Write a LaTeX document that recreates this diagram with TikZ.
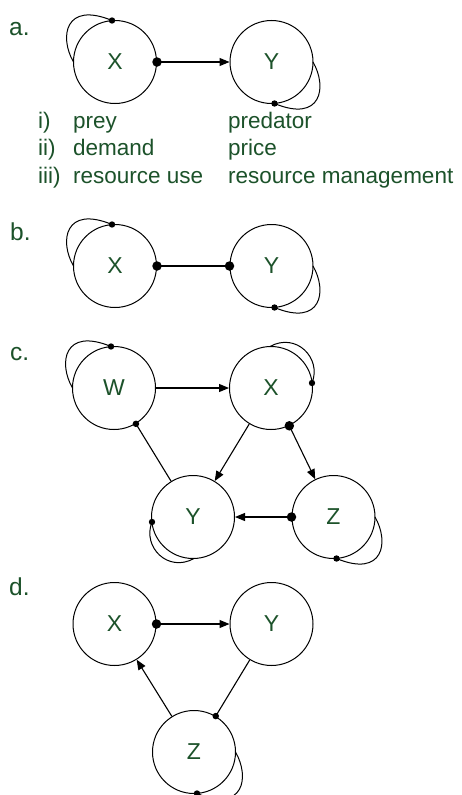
\documentclass[tikz,border=0pt]{standalone}
\usepackage{fontspec}
\setmainfont{Liberation Sans}
\usetikzlibrary{arrows.meta}
\definecolor{txtgreen}{RGB}{28,82,42}
\begin{document}
\begin{tikzpicture}[x=1pt,y=-1pt,
  state/.style={circle,draw=black,line width=1pt,minimum size=83pt,inner sep=0pt,
    text=txtgreen,font=\fontsize{23}{27}\selectfont},
  lbl/.style={anchor=base west,inner sep=0pt,text=txtgreen,font=\fontsize{22.5}{27}\selectfont},
  panel/.style={lbl,font=\fontsize{24.5}{29}\selectfont},
  edge/.style={line width=1.1pt},
  arr/.style={edge,-{Triangle[length=10pt,width=8pt]}},
  bigdot/.style={circle,fill=black,inner sep=0pt,minimum size=9.5pt},
  smalldot/.style={circle,fill=black,inner sep=0pt,minimum size=6.5pt},
  % self-loops, drawn relative to the node centre
  loopnw/.pic={\draw[line width=1pt] (-3,-41.5) .. controls (-50,-61) and (-56,-25) .. (-41.5,0);
                \fill (-3,-41.5) circle (3.2);},
  loopse/.pic={\draw[line width=1pt] (41.5,0) .. controls (56,25) and (50,61) .. (3,41.5);
                \fill (3,41.5) circle (3.2);},
  loopne/.pic={\draw[line width=1pt] (-1,-41.5) .. controls (25,-56) and (51,-30) .. (41,-5);
                \fill (41,-5) circle (3.2);},
  loopsw/.pic={\draw[line width=1pt] (-41,5) .. controls (-51,30) and (-25,56) .. (1,41.5);
                \fill (-41,5) circle (3.2);},
]
\fill[white] (0,0) rectangle (462,795);
\useasboundingbox (0,0) rectangle (462,795);

% ---- a.
\node[panel] (la) at (9,35) {a.};
\node[state] (aX) at (115,62) {X};
\node[state] (aY) at (271.5,62) {Y};
\draw[arr] (aX) -- (aY) node[pos=0,bigdot] (aXd) {};
\pic at (aX) {loopnw};
\pic at (aY) {loopse};
\node[lbl] (r1a) at (38,128) {i)};
\node[lbl] (r1b) at (73,128) {prey};
\node[lbl] (r1c) at (228,128) {predator};
\node[lbl] (r2a) at (38,155.5) {ii)};
\node[lbl] (r2b) at (73,155.5) {demand};
\node[lbl] (r2c) at (228,155.5) {price};
\node[lbl] (r3a) at (38,183) {iii)};
\node[lbl] (r3b) at (73,183) {resource use};
\node[lbl] (r3c) at (228,183) {resource management};

% ---- b.
\node[panel] (lb) at (10,240) {b.};
\node[state] (bX) at (115,266) {X};
\node[state] (bY) at (271.5,266) {Y};
\draw[edge] (bX) -- (bY) node[pos=0,bigdot] (bXd) {} node[pos=1,bigdot] (bYd) {};
\pic at (bX) {loopnw};
\pic at (bY) {loopse};

% ---- c.
\node[panel] (lc) at (10,360) {c.};
\node[state] (cW) at (114,388) {W};
\node[state] (cX) at (271,388) {X};
\node[state] (cY) at (193,517) {Y};
\node[state] (cZ) at (333.5,517) {Z};
\draw[arr] (cW) -- (cX);
\draw[edge] (cY) -- (cW) node[pos=1,smalldot] (cWd) {};
\draw[arr] (cX) -- (cY);
\draw[arr] (cX) -- (cZ) node[pos=0,bigdot] (cXd) {};
\draw[arr] (cZ) -- (cY) node[pos=0,bigdot] (cZd) {};
\pic at (cW) {loopnw};
\pic at (cX) {loopne};
\pic at (cY) {loopsw};
\pic at (cZ) {loopse};

% ---- d.
\node[panel] (ld) at (9,595) {d.};
\node[state] (dX) at (114.5,624) {X};
\node[state] (dY) at (271.5,624) {Y};
\node[state] (dZ) at (194,752) {Z};
\draw[arr] (dX) -- (dY) node[pos=0,bigdot] (dXd) {};
\draw[arr] (dZ) -- (dX);
\draw[edge] (dY) -- (dZ) node[pos=1,smalldot] (dZd) {};
\pic at (dZ) {loopse};
\end{tikzpicture}
\end{document}
